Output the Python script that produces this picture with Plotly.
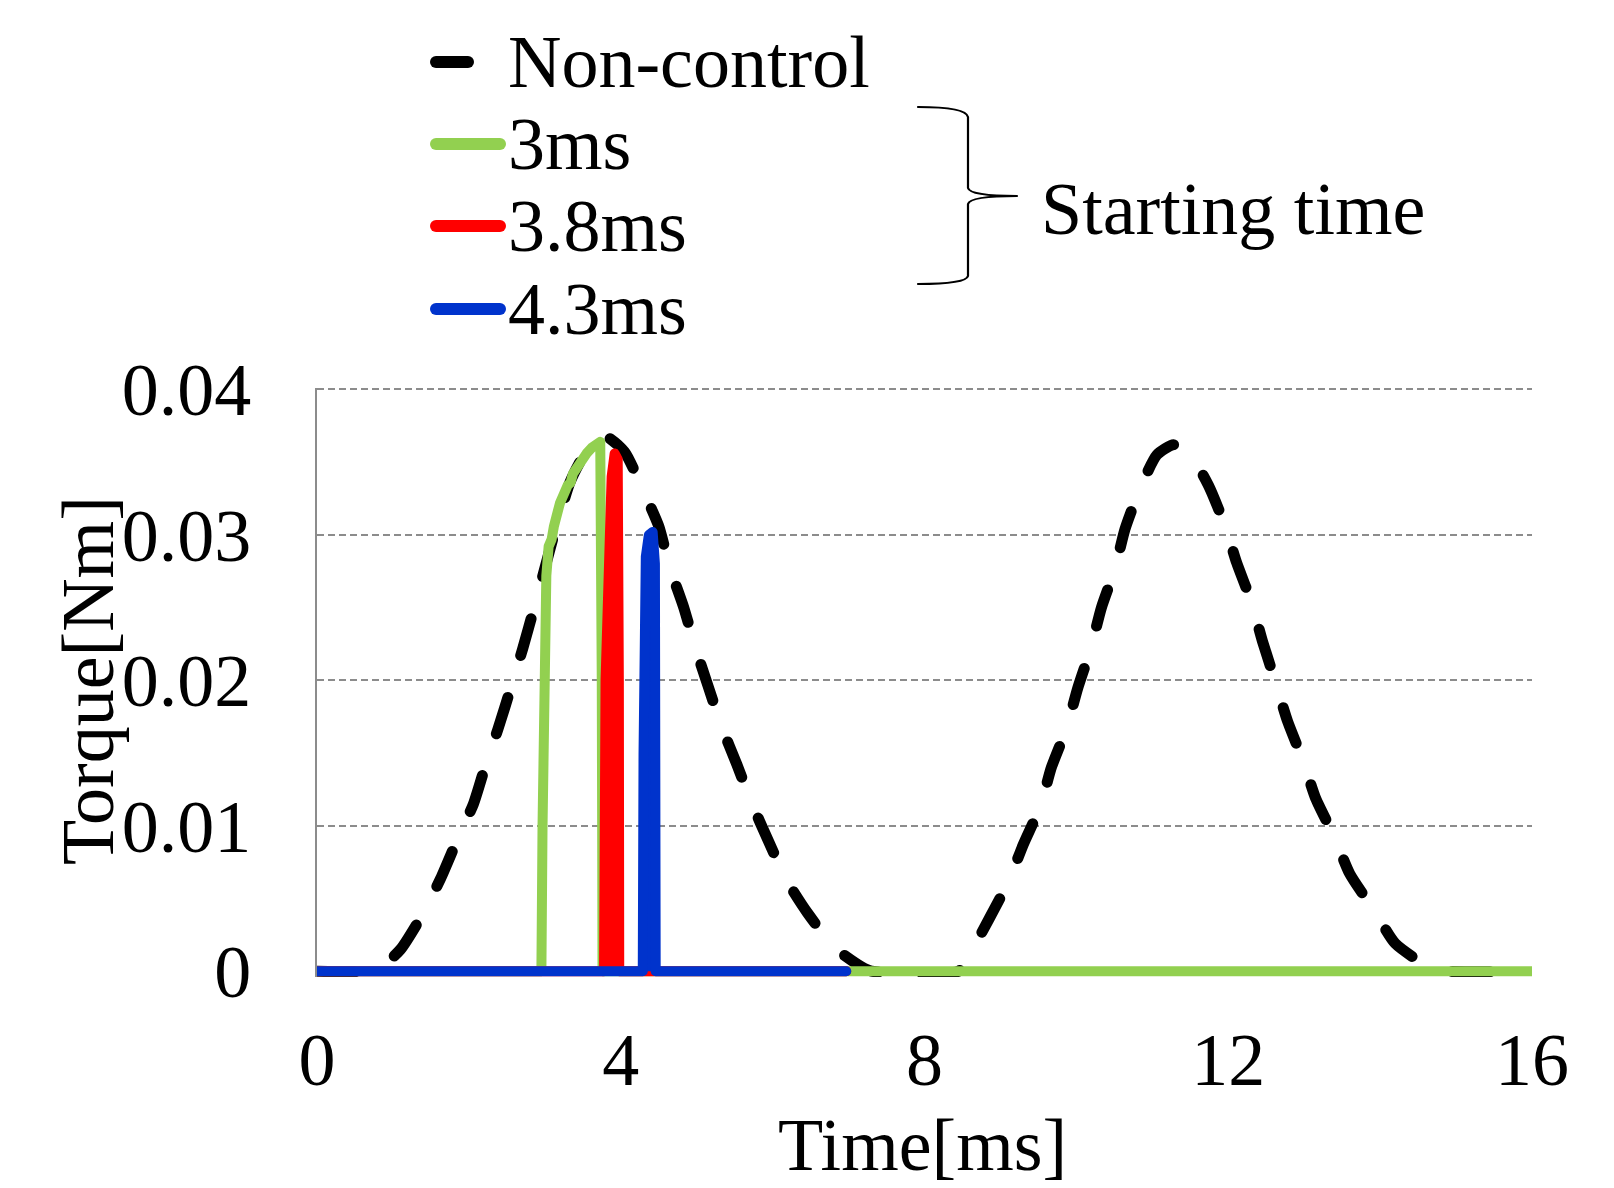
import plotly.graph_objects as go

# ---------------- data (time in ms, torque in Nm) ----------------
t_nc = [0.00, 0.70, 0.85, 1.10, 1.40, 1.63, 1.86, 2.06, 2.21, 2.38,
        2.56, 2.71, 2.86, 2.99, 3.13, 3.33, 3.46, 3.59, 3.79, 4.05,
        4.30, 4.50, 4.65, 4.83, 4.98, 5.15, 5.33, 5.53, 5.73, 5.94,
        6.19, 6.46, 6.82, 7.17, 7.30, 8.45, 8.60, 8.85, 9.11, 9.30,
        9.53, 9.67, 9.87, 10.02, 10.19, 10.33, 10.51, 10.64, 10.84, 11.06,
        11.28, 11.49, 11.74, 11.96, 12.11, 12.31, 12.45, 12.62, 12.78, 12.99,
        13.15, 13.40, 13.60, 13.93, 14.20, 14.67, 14.85, 16.00]
tq_nc = [0, 0, 0.0003, 0.0015, 0.0040, 0.0064, 0.0092, 0.0115, 0.0140, 0.0166,
         0.0196, 0.0222, 0.0250, 0.0275, 0.0302, 0.0336, 0.0350, 0.0361, 0.0368, 0.0357,
         0.0330, 0.0306, 0.0277, 0.0250, 0.0223, 0.0196, 0.0168, 0.0142, 0.0115, 0.0090,
         0.0062, 0.0040, 0.0016, 0.0003, 0, 0, 0.0012, 0.0036, 0.0062, 0.0087,
         0.0114, 0.0140, 0.0167, 0.0195, 0.0222, 0.0250, 0.0277, 0.0304, 0.0332, 0.0355,
         0.0362, 0.0356, 0.0334, 0.0306, 0.0281, 0.0253, 0.0227, 0.0199, 0.0172, 0.0144,
         0.0119, 0.0092, 0.0067, 0.0041, 0.0019, 0.0002, 0, 0]

t_3 = [0.00, 2.955, 2.97, 2.99, 3.02, 3.05, 3.09, 3.12, 3.20, 3.30,
       3.34, 3.37, 3.46, 3.55, 3.62, 3.68, 3.73, 3.75, 3.76, 16.00]
tq_3 = [0, 0, 0.0100, 0.0220, 0.0272, 0.0292, 0.0297, 0.0306, 0.0322, 0.0334,
        0.0336, 0.0342, 0.0350, 0.0356, 0.0360, 0.0362, 0.0364, 0.0200, 0, 0]

t_38 = [0.00, 3.78, 3.80, 3.84, 3.88, 3.92, 3.96, 3.975, 3.98, 6.97]
tq_38 = [0, 0, 0.0200, 0.0300, 0.0340, 0.0356, 0.0352, 0.0200, 0, 0]

t_43 = [0.00, 4.29, 4.30, 4.31, 4.33, 4.37, 4.42, 4.45, 4.46, 4.46, 6.97]
tq_43 = [0, 0, 0.0150, 0.0270, 0.0285, 0.0300, 0.0302, 0.0280, 0.0100, 0, 0]

series_names = ["Non-control", "3ms", "3.8ms", "4.3ms"]
series_colors = ["#000000", "#92D050", "#FF0000", "#0033CC"]
series_filled = [False, False, True, True]

x_ticks = [0, 4, 8, 12, 16]
y_ticks = [0, 0.01, 0.02, 0.03, 0.04]
y_ticktext = ["0", "0.01", "0.02", "0.03", "0.04"]

FONT = "Liberation Serif, Times New Roman, serif"
FS = 74

# ---------------- layout geometry (pixels) ----------------
W, H = 1614, 1188
L, R, T, B = 317, 82, 388, 211
PW, PH = W - L - R, H - T - B


def px2x(px):
    return (px - L) / PW


def py2y(py):
    return (H - B - py) / PH


fig = go.Figure()
series = [(t_nc, tq_nc), (t_3, tq_3), (t_38, tq_38), (t_43, tq_43)]
for i, (xs, ys) in enumerate(series):
    if i == 0:
        line = dict(color=series_colors[i], width=11, dash="38px,44px",
                    shape="spline", smoothing=0.6)
    else:
        line = dict(color=series_colors[i], width=10)
    kw = {}
    if series_filled[i]:
        kw = dict(fill="tozeroy", fillcolor=series_colors[i])
    fig.add_trace(go.Scatter(x=xs, y=ys, mode="lines", name=series_names[i],
                             line=line, showlegend=False, hoverinfo="skip", **kw))

shapes = []
annotations = []

# manual legend
leg_rows = [62, 144, 226, 309]
for i, name in enumerate(series_names):
    yy = py2y(leg_rows[i])
    x_end = 468 if i == 0 else 500
    shapes.append(dict(type="line", xref="paper", yref="paper",
                       x0=px2x(436), x1=px2x(x_end), y0=yy, y1=yy,
                       line=dict(color=series_colors[i], width=12)))
    annotations.append(dict(text=name, xref="paper", yref="paper",
                            x=px2x(506), y=yy, xanchor="left", yanchor="middle",
                            showarrow=False, font=dict(family=FONT, size=FS, color="black")))

# brace
def P(px, py):
    return f"{px2x(px):.5f},{py2y(py):.5f}"

brace = (f"M {P(918,107)} Q {P(966,107)} {P(968,117)} L {P(968,188)} "
         f"Q {P(970,196)} {P(1017,196)} "
         f"M {P(1017,196)} Q {P(970,196)} {P(968,204)} L {P(968,276)} "
         f"Q {P(966,284)} {P(918,284)}")
shapes.append(dict(type="path", xref="paper", yref="paper", path=brace,
                   line=dict(color="black", width=2.2)))
annotations.append(dict(text="Starting time", xref="paper", yref="paper",
                        x=px2x(1039), y=py2y(209), xanchor="left", yanchor="middle",
                        showarrow=False, font=dict(family=FONT, size=FS, color="black")))

# axis titles
annotations.append(dict(text="Torque[Nm]", xref="paper", yref="paper",
                        x=px2x(88), y=py2y(681), xanchor="center", yanchor="middle",
                        textangle=-90, showarrow=False,
                        font=dict(family=FONT, size=FS, color="black")))
annotations.append(dict(text="Time[ms]", xref="paper", yref="paper",
                        x=px2x(922), y=py2y(1145), xanchor="center", yanchor="middle",
                        showarrow=False,
                        font=dict(family=FONT, size=FS, color="black")))

fig.update_layout(
    width=W, height=H, autosize=False,
    margin=dict(l=L, r=R, t=T, b=B, pad=0),
    paper_bgcolor="white", plot_bgcolor="white",
    font=dict(family=FONT, size=FS, color="black"),
    shapes=shapes, annotations=annotations,
    showlegend=False,
)
fig.update_xaxes(range=[0, 16], tickmode="array", tickvals=x_ticks,
                 ticks="", ticklabelstandoff=33, showgrid=False, zeroline=False,
                 showline=False, automargin=False,
                 tickfont=dict(family=FONT, size=FS, color="black"))
fig.update_yaxes(range=[-0.0004, 0.0401], tickmode="array", tickvals=y_ticks,
                 ticktext=y_ticktext, ticks="", ticklabelstandoff=49,
                 showgrid=True, gridcolor="#8c8c8c", gridwidth=2, griddash="7px,4px",
                 zeroline=False, showline=True, linecolor="#8c8c8c", linewidth=2,
                 layer="below traces", automargin=False,
                 tickfont=dict(family=FONT, size=FS, color="black"))

post = ("document.body.style.margin='0';"
        "var gd=document.getElementById('{plot_id}');"
        "function rc(){gd.querySelectorAll('.scatterlayer .js-line, .shapelayer path')"
        ".forEach(function(p){p.style.strokeLinecap='round';p.style.strokeLinejoin='round';});}"
        "rc(); gd.on('plotly_afterplot', rc);")
fig.write_html("out.html", post_script=post, config={"displayModeBar": False})
